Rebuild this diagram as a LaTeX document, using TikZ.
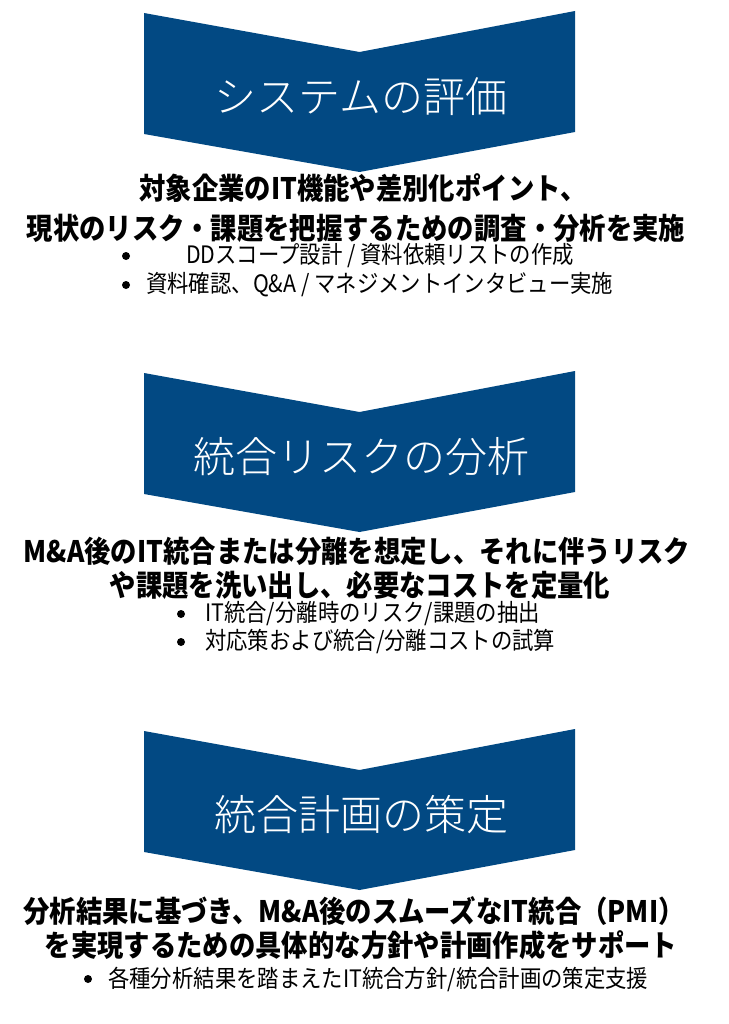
\documentclass[tikz,border=0pt]{standalone}
\usepackage{fontspec}
\usepackage{tikz}
\usetikzlibrary{positioning}
\setmainfont{Noto Sans CJK JP}
\newfontfamily\jpbody[FakeStretch=0.89]{Noto Sans CJK JP}
\newfontfamily\jptitle{Noto Sans CJK JP Light}
\definecolor{chevblue}{RGB}{2,73,131}

\begin{document}
\begin{tikzpicture}[x=1pt,y=-1pt,
        chevron/.style={fill=chevblue},
        titletext/.style={text=white, font=\jptitle\fontsize{42}{46}\selectfont, inner sep=0pt},
        leadtext/.style={font=\jpbody\bfseries\fontsize{29.6}{36}\selectfont, inner sep=0pt},
        itemtext/.style={font=\jpbody\fontsize{24}{28}\selectfont, anchor=west, inner sep=0pt},
        bullet/.style={circle, fill=black, inner sep=0pt, minimum size=8pt}
    ]
        \useasboundingbox (0,0) rectangle (728,1024);
        % Draw the chevrons with their titles
        \foreach \y/\name/\title in {0/sys/システムの評価, 360/risk/統合リスクの分析, 718/plan/統合計画の策定}{
            \fill[chevron] (144,\y+13) -- (359.5,\y+52) -- (575,\y+11) -- (575,\y+132) -- (359.5,\y+172) -- (144,\y+134) -- cycle;
            \node[titletext] (\name) at (361,\y+97) {\title};
        }
        % Step 1: system evaluation
        \node[leadtext] (syslead1) at (363,188) {対象企業のIT機能や差別化ポイント、};
        \node[leadtext] (syslead2) at (356,228) {現状のリスク・課題を把握するための調査・分析を実施};
        \node[bullet] (sysb1) at (126,256) {};
        \node[itemtext] (sysitem1) at (186,256) {DDスコープ設計 / 資料依頼リストの作成};
        \node[bullet] (sysb2) at (126,285) {};
        \node[itemtext] (sysitem2) at (146,285) {資料確認、Q\&A / マネジメントインタビュー実施};
        % Step 2: integration risk analysis
        \node[leadtext] (risklead1) at (357,551) {M\&A後のIT統合または分離を想定し、それに伴うリスク};
        \node[leadtext] (risklead2) at (360,585) {や課題を洗い出し、必要なコストを定量化};
        \node[bullet] (riskb1) at (181,614) {};
        \node[itemtext] (riskitem1) at (205,614) {IT統合/分離時のリスク/課題の抽出};
        \node[bullet] (riskb2) at (181,642) {};
        \node[itemtext] (riskitem2) at (205,642) {対応策および統合/分離コストの試算};
        % Step 3: integration planning
        \node[leadtext] (planlead1) at (354,911) {分析結果に基づき、M\&A後のスムーズなIT統合（PMI）};
        \node[leadtext] (planlead2) at (361,945) {を実現するための具体的な方針や計画作成をサポート};
        \node[bullet] (planb1) at (88,979) {};
        \node[itemtext] (planitem1) at (108,979) {各種分析結果を踏まえたIT統合方針/統合計画の策定支援};
    \end{tikzpicture}
\end{document}
